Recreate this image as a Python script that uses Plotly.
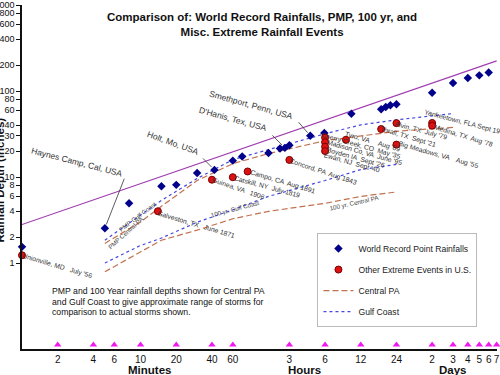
import math
import plotly.graph_objects as go

# ---------------- data ----------------
x_tick_minutes = [2, 4, 6, 10, 20, 40, 60, 180, 360, 720, 1440, 2880, 4320, 5760, 7200, 8640, 10080]
x_tick_labels = ["2", "4", "6", "10", "20", "40", "60", "3", "6", "12", "24", "2", "3", "4", "5", "6", "7"]
y_tick_values = [1, 2, 4, 6, 8, 10, 20, 30, 40, 60, 80, 100, 200, 400, 600, 800, 1000]
y_tick_labels = [str(v) for v in y_tick_values]
y_grid_values = [1, 10, 100, 1000]
unit_labels = ["Minutes", "Hours", "Days"]
unit_label_minutes = [12, 240, 4300]

record_minutes = [1, 5, 8, 15, 20, 30, 42, 60, 72, 120, 150, 165, 180, 270, 355,
                  600, 1070, 1170, 1280, 1440, 2880, 4320, 5760, 7200, 8640]
record_inches = [1.54, 2.54, 4.96, 7.8, 8.1, 11.1, 12.1, 15.5, 17.3, 19.0, 21.5, 21.8, 23.4, 30.2, 32.4,
                 54.5, 61.4, 65.3, 68.4, 70.2, 95.6, 124, 142, 152, 164]
record_label_names = ["Haynes Camp, Cal, USA", "Holt, Mo, USA", "D'Hanis, Tex, USA", "Smethport, Penn, USA"]
record_label_minutes = [5, 42, 165, 270]

event_names = ["Unionville, MD   July '56", "Galveston, TX   June 1871", "Guinea, VA   1906",
               "Catskill, NY  July 1819", "Campo, CA  Aug 1891", "Concord, PA  Aug 1843",
               "Cherry Creek, CO  May '35", "Madison Co, VA  June '95", "Boyden IA  Sept '26",
               "Ewan, NJ  Sept '40", "Tyro, VA     Aug '69", "Thrall, TX  Sept '21",
               "Alvin, TX  July '79", "Big Meadows, VA    Aug '55", "Yankeetown, FLA Sept 1950",
               "Medina, TX  Aug '78"]
event_minutes = [1, 14, 40, 60, 80, 180, 360, 360, 360, 360, 540, 1070, 1440, 1440, 2880, 2880]
event_inches = [1.23, 4.0, 9.3, 9.95, 11.6, 15.8, 28.7, 25.4, 22.5, 20.0, 27.1, 36.1, 42.3, 23.8, 42.5, 39.5]

pmp_minutes = [5, 10, 15, 30, 60, 120, 360, 720, 1440, 2880, 4320]
pmp_gulf_inches = [1.84, 3.6, 5.35, 9.6, 15.9, 20.8, 31.8, 40.4, 46.2, 51.4, 54.7]
pmp_central_inches = [1.69, 3.0, 4.56, 9.1, 14.3, 18.7, 26.4, 30.2, 34.0, 36.4, 37.7]

yr100_minutes = [5, 10, 15, 30, 60, 120, 360, 720, 1440]
yr100_gulf_inches = [1.0, 1.6, 1.95, 2.98, 4.15, 5.95, 9.1, 12.2, 14.0]
yr100_central_inches = [0.79, 1.35, 1.84, 2.41, 3.27, 3.99, 4.94, 5.95, 6.7]

envelope_minutes = [1, 10080]
envelope_inches = [2.8, 224]

curve_label_names = ["PMP Gulf Coast", "PMP Central PA", "100 yr. Gulf Coast", "100 yr. Central PA"]
curve_label_minutes = [9.4, 7.5, 63, 640]
curve_label_inches = [3.5, 2.28, 4.33, 5.1]

note_lines = ["PMP and 100 Year rainfall depths shown for Central PA",
              "and Gulf Coast to give approximate range of storms for",
              "comparison to actual storms shown."]

# ---------------- styling ----------------
FONT = "Liberation Sans, Arial, sans-serif"
CENTRAL_COLOR = "#c2714f"
GULF_COLOR = "#4747e0"
lg = math.log10

fig = go.Figure()

fig.add_trace(go.Scatter(x=envelope_minutes, y=envelope_inches, mode="lines",
                         line=dict(color="#a03cb0", width=1.1), showlegend=False, hoverinfo="skip"))
fig.add_trace(go.Scatter(x=pmp_minutes, y=pmp_central_inches, mode="lines", name="Central PA",
                         line=dict(color=CENTRAL_COLOR, width=1.2, dash="6px,3px"),
                         legendgroup="c", legendrank=3))
fig.add_trace(go.Scatter(x=yr100_minutes, y=yr100_central_inches, mode="lines", name="Central PA 100",
                         line=dict(color=CENTRAL_COLOR, width=1.2, dash="6px,3px"), showlegend=False))
fig.add_trace(go.Scatter(x=pmp_minutes, y=pmp_gulf_inches, mode="lines", name="Gulf Coast",
                         line=dict(color=GULF_COLOR, width=1.2, dash="dot"),
                         legendgroup="d", legendrank=4))
fig.add_trace(go.Scatter(x=yr100_minutes, y=yr100_gulf_inches, mode="lines", name="Gulf 100",
                         line=dict(color=GULF_COLOR, width=1.2, dash="dot"), showlegend=False))
fig.add_trace(go.Scatter(x=record_minutes, y=record_inches, mode="markers", name="World Record Point Rainfalls",
                         marker=dict(symbol="diamond", size=6.5, color="#00008b"),
                         legendgroup="a", legendrank=1, cliponaxis=False))
fig.add_trace(go.Scatter(x=event_minutes, y=event_inches, mode="markers", name="Other Extreme Events in U.S.",
                         marker=dict(symbol="circle", size=7, color="#dd1111",
                                     line=dict(color="#7a0000", width=1)),
                         legendgroup="b", legendrank=2, cliponaxis=False))
fig.add_trace(go.Scatter(x=x_tick_minutes, y=[0.112] * len(x_tick_minutes), mode="markers",
                         marker=dict(symbol="triangle-up", size=6.5, color="#f019f0"),
                         showlegend=False, cliponaxis=False, hoverinfo="skip"))

annotations = []
# title
annotations.append(dict(xref="paper", yref="paper", x=0.506, y=0.942, xanchor="center", yanchor="middle",
                        text="<b>Comparison of: World Record Rainfalls, PMP, 100 yr, and<br>Misc. Extreme Rainfall Events</b>",
                        showarrow=False, font=dict(size=11.5, color="#111", family=FONT)))
# y title
annotations.append(dict(xref="paper", yref="paper", x=0, y=0.49, xshift=-22, xanchor="center", yanchor="middle",
                        text="<b>Rainfall Depth (inches)</b>", textangle=-90, showarrow=False,
                        font=dict(size=11.5, color="#111", family=FONT)))
# unit labels
for name, m in zip(unit_labels, unit_label_minutes):
    annotations.append(dict(xref="x", yref="paper", x=lg(m), y=0, yshift=-20.5, xanchor="center", yanchor="middle",
                            text="<b>%s</b>" % name, showarrow=False, font=dict(size=11.5, color="#111", family=FONT)))
# note
for i, line in enumerate(note_lines):
    annotations.append(dict(xref="paper", yref="paper", x=0.059, y=0.137, yshift=-(i - 1) * 10.5,
                            xanchor="left", yanchor="middle", text=line, showarrow=False,
                            font=dict(size=8.7, color="#111", family=FONT)))

# record labels with leader lines (pixel offsets: label centre, leader tail)
record_label_style = {
    "Haynes Camp, Cal, USA": dict(dx=-28, dy=-66, ang=14.5, lx=20, ly=-51),
    "Holt, Mo, USA": dict(dx=-41, dy=-27, ang=20, lx=-13, ly=-13),
    "D'Hanis, Tex, USA": dict(dx=-52, dy=-29, ang=15.5, lx=-14, ly=-14),
    "Smethport, Penn, USA": dict(dx=-59, dy=-31, ang=15.6, lx=-13, ly=-15),
}
for name, m in zip(record_label_names, record_label_minutes):
    v = record_inches[record_minutes.index(m)]
    s = record_label_style[name]
    annotations.append(dict(x=lg(m), y=lg(v), xshift=s["dx"], yshift=-s["dy"], xanchor="center", yanchor="middle",
                            text=name, textangle=s["ang"], showarrow=False,
                            font=dict(size=8.5, color="#333", family=FONT)))
    annotations.append(dict(x=lg(m), y=lg(v), ax=s["lx"], ay=s["ly"], text="", showarrow=True,
                            arrowhead=0, arrowwidth=0.8, arrowcolor="#333", standoff=4))

# event labels (pixel offsets of label centre from the point)
event_label_style = [
    (35, 11, 16.5), (39, 13, 16.5), (27, 9, 19), (34, 10, 15), (35, 11, 16.6), (34, 12, 18.4),
    (36, 8, 15.7), (40, 10, 15.7), (31, 11, 15.7), (27, 11.5, 15.7), (27, 2, 16), (27, 8, 16.7),
    (25, 8, 15), (42, 10, 15.8), (34, 0, 14.7), (31, 10, 17),
]
for name, m, v, (dx, dy, ang) in zip(event_names, event_minutes, event_inches, event_label_style):
    annotations.append(dict(x=lg(m), y=lg(v), xshift=dx, yshift=-dy, xanchor="center", yanchor="middle",
                            text=name, textangle=ang, showarrow=False,
                            font=dict(size=6.8, color="#333", family=FONT)))

# curve labels
curve_label_angles = [-37, -42, -15, -12.5]
for name, m, v, ang in zip(curve_label_names, curve_label_minutes, curve_label_inches, curve_label_angles):
    annotations.append(dict(x=lg(m), y=lg(v), xanchor="center", yanchor="middle", text=name, textangle=ang,
                            showarrow=False, font=dict(size=6.2, color="#444", family=FONT)))

x_range = [lg(1), lg(10150)]
y_range = [-1, 3]

fig.update_layout(
    width=500, height=375,
    margin=dict(l=22, r=3, t=5, b=26, autoexpand=False),
    paper_bgcolor="white", plot_bgcolor="white",
    font=dict(family=FONT, color="#111"),
    showlegend=True,
    legend=dict(x=0.622, y=0.337, xanchor="left", yanchor="top", bgcolor="white",
                bordercolor="#bbbbbb", borderwidth=1, font=dict(size=8.6, color="#222", family=FONT),
                tracegroupgap=2, itemwidth=30),
    xaxis=dict(type="log", range=x_range, tickvals=x_tick_minutes, ticktext=x_tick_labels, automargin=False,
               ticks="", tickangle=0, showgrid=False, zeroline=False, showline=True, linecolor="#111", linewidth=1.6,
               tickfont=dict(size=10, color="#111", family=FONT)),
    xaxis2=dict(type="log", range=x_range, overlaying="x", side="top", anchor="y", showline=True, automargin=False,
                linecolor="#777", linewidth=1.5, showticklabels=False, ticks="", showgrid=False, zeroline=False),
    yaxis=dict(type="log", range=y_range, tickvals=y_tick_values, ticktext=y_tick_labels, automargin=False,
               ticks="outside", ticklen=4, tickcolor="#111", showgrid=False, zeroline=False,
               showline=True, linecolor="#111", linewidth=1.6,
               tickfont=dict(size=9, color="#111", family=FONT)),
    yaxis2=dict(type="log", range=y_range, overlaying="y", side="right", anchor="x", tickvals=y_grid_values,
                showticklabels=False, ticks="", showgrid=True, gridcolor="#dddddd", gridwidth=1, automargin=False,
                showline=True, linecolor="#777", linewidth=1.5, zeroline=False),
    annotations=annotations,
)

fig.write_html("out.html", config={"displayModeBar": False},
               post_script="document.body.style.margin='0px';document.body.style.overflow='hidden';")
